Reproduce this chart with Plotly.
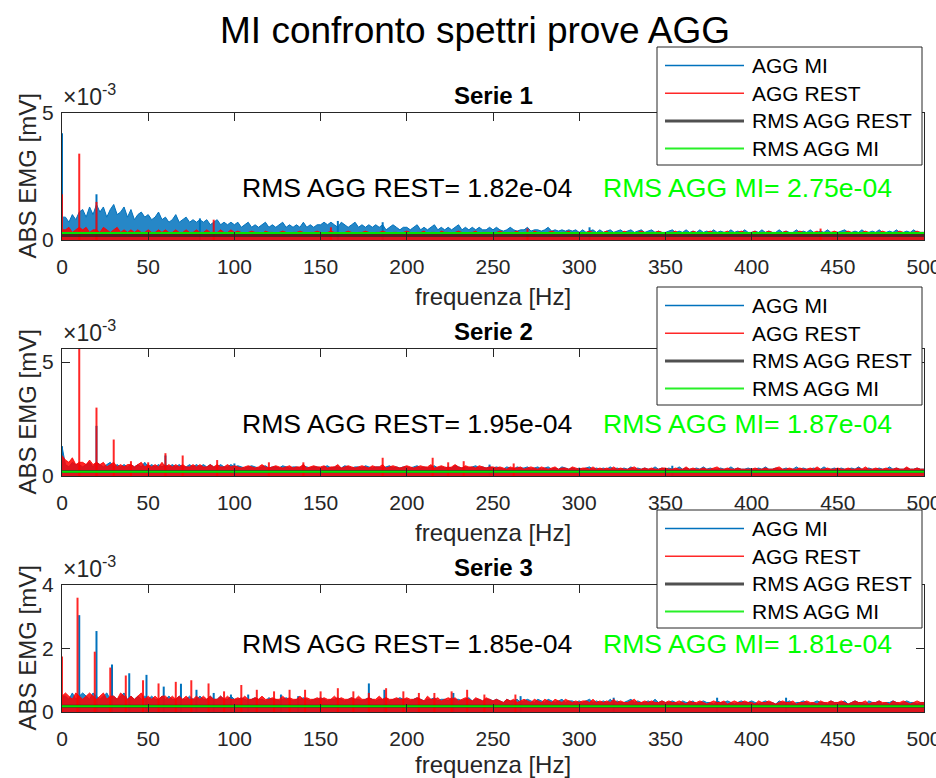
import plotly.graph_objects as go

W, H = 936, 778

# ---------------- data (values in units of 1e-4 mV) ----------------
F_GRID = list(range(0, 501, 2))          # frequency grid [Hz]
UNIT = 1e-4

# ---- Serie 1 ----
S1_MI = [9, 9, 7, 10, 8, 11, 12, 9, 13, 10, 14, 11, 13, 9, 12, 14, 10, 11, 13, 9, 12, 8, 10, 11, 9,
         10, 8, 9, 11, 8, 9, 7, 8, 10, 7, 8, 9, 7, 8, 7, 8, 7, 8, 6, 7, 8, 6, 7, 6, 7,
         6, 7, 5, 6, 7, 5, 6, 5, 6, 7, 5, 6, 5, 6, 7, 5, 6, 5, 6, 5, 7, 5, 6, 5, 6,
         6, 7, 6, 7, 6, 5, 7, 6, 5, 6, 7, 5, 6, 5, 6, 5, 6, 5, 6, 4, 5, 6, 5, 4, 5,
         5, 4, 5, 6, 4, 5, 4, 5, 6, 4, 5, 4, 5, 4, 5, 6, 4, 5, 4, 5, 4, 5, 4, 4, 5,
         4, 5, 4, 3.5, 4, 5, 4, 3.5, 4, 4, 5, 3.5, 4, 4, 3.5, 4, 5, 3.5, 4, 3.5, 4, 3.5, 4, 3.5, 4,
         3, 4, 3, 3.5, 4, 3, 4, 3, 3.5, 4, 3, 3.5, 4, 3, 3.5, 4, 3, 3.5, 4, 3, 3.5, 4, 3, 3.5, 3,
         3, 3.5, 4, 3, 3.5, 3, 4, 3, 3.5, 3, 4, 3, 3.5, 3, 4, 3, 3.5, 3, 3, 4, 3, 3.5, 3, 4, 3,
         3, 3.5, 3, 4, 3, 3.5, 3, 3, 4, 3, 3.5, 3, 3, 4, 3, 3.5, 3, 4, 3, 3, 3.5, 3, 4, 3, 3,
         3, 3.5, 4, 3, 3, 3.5, 3, 4, 3, 3, 3.5, 3, 4, 3, 3, 3.5, 3, 4, 3, 3, 3.5, 3, 4, 3, 3, 3]
S1_REST = [4, 4, 5, 3, 4, 5, 4, 5, 3, 4, 4, 3, 5, 4, 3, 4, 5, 3, 4, 3, 4, 3, 4, 3, 3,
           4, 3, 3, 4, 3, 4, 3, 3, 4, 3, 3, 4, 3, 3, 4, 3, 3, 4, 3, 3, 3, 4, 3, 3, 4,
           3, 3.5, 3, 2.5, 3, 3.5, 3, 3, 2.5, 3.5, 3, 3, 2.5, 3, 3.5, 3, 2.5, 3, 3, 3.5, 3, 2.5, 3, 3, 3.5,
           3, 2.5, 3, 3.5, 3, 3, 2.5, 3, 3.5, 3, 2.5, 3, 3, 3.5, 3, 2.5, 3, 3, 3.5, 3, 2.5, 3, 3, 2.5, 3,
           3.5, 3, 2.5, 3, 3, 3.5, 2.5, 3, 3, 2.5, 3.5, 3, 3, 2.5, 3, 3.5, 3, 2.5, 3, 3, 3.5, 2.5, 3, 3, 3,
           2.5, 3, 3.5, 3, 2.5, 3, 3, 3.5, 2.5, 3, 3, 2.5, 3.5, 3, 3, 2.5, 3, 3.5, 3, 2.5, 3, 3, 3.5, 2.5, 3,
           3, 2.5, 3, 3.5, 3, 2.5, 3, 3, 3.5, 2.5, 3, 3, 2.5, 3.5, 3, 3, 2.5, 3, 3.5, 3, 2.5, 3, 3, 3.5, 3,
           2.5, 3, 3, 3.5, 2.5, 3, 3, 2.5, 3.5, 3, 3, 2.5, 3, 3.5, 3, 2.5, 3, 3, 3.5, 2.5, 3, 3, 3.5, 3, 2.5,
           3, 3.5, 2.5, 3, 3, 3.5, 3, 2.5, 3, 3, 3.5, 2.5, 3, 3, 3.5, 3, 2.5, 3, 3, 3.5, 2.5, 3, 3, 3, 3.5,
           3, 2.5, 3, 3.5, 3, 3, 2.5, 3, 3.5, 3, 2.5, 3, 3, 3.5, 3, 2.5, 3, 3, 3.5, 3, 2.5, 3, 3, 3.5, 3, 3]
S1_MI_PEAK_F = [0, 20, 80, 160, 186, 306]
S1_MI_PEAK_A = [42, 18, 8.5, 7.5, 7, 5]
S1_REST_PEAK_F = [0, 10, 20, 88, 156, 270, 440]
S1_REST_PEAK_A = [18, 34, 15, 8, 5, 4.5, 4.5]

# ---- Serie 2 ----
S2_MI = [13, 5, 4, 6, 5, 5, 4, 5, 6, 4, 6, 5, 4, 5, 6, 4, 5, 4, 5, 4, 5, 4, 5, 4, 6,
         4, 5, 4, 5, 4, 5, 4, 5, 4, 5, 4, 4, 5, 4, 5, 4, 5, 4, 5, 4, 4, 5, 4, 4, 5,
         4, 4.5, 4, 3.5, 4, 4.5, 4, 3.5, 4, 4.5, 3.5, 4, 4, 3.5, 4.5, 4, 3.5, 4, 4, 3.5, 4.5, 4, 3.5, 4, 4,
         3.5, 4, 4.5, 3.5, 4, 4, 3.5, 4.5, 4, 3.5, 4, 4, 3.5, 4.5, 4, 3.5, 4, 4, 3.5, 4, 4.5, 3.5, 4, 3.5, 4,
         4, 3.5, 4, 4.5, 3.5, 4, 3.5, 4, 4.5, 3.5, 4, 3.5, 4, 3.5, 4.5, 4, 3.5, 4, 3.5, 4, 4.5, 3.5, 4, 3.5, 4,
         3.5, 4, 3.5, 3, 4, 3.5, 3, 4, 3.5, 3.5, 4, 3, 3.5, 4, 3, 3.5, 4, 3, 3.5, 3, 4, 3.5, 3, 3.5, 3,
         3.5, 3, 3.5, 4, 3, 3.5, 3, 3.5, 3, 4, 3, 3.5, 3, 3.5, 3, 4, 3, 3.5, 3, 3.5, 3, 3, 4, 3, 3.5,
         3, 3.5, 3, 3, 4, 3, 3.5, 3, 3, 3.5, 3, 4, 3, 3.5, 3, 3, 3.5, 3, 3, 4, 3, 3.5, 3, 3, 3.5,
         3, 3, 3.5, 3, 4, 3, 3, 3.5, 3, 3, 3.5, 3, 3, 4, 3, 3.5, 3, 3, 3.5, 3, 3, 4, 3, 3, 3.5,
         3, 3.5, 3, 3, 3.5, 3, 4, 3, 3, 3.5, 3, 3, 3.5, 3, 3, 4, 3, 3.5, 3, 3, 3.5, 3, 3, 3.5, 3, 3]
S2_REST = [9, 7, 6, 8, 5, 6, 6, 5, 7, 5, 6, 5, 6, 4, 5, 6, 4, 5, 4, 5, 5, 4, 5, 6, 4,
           5, 4, 5, 4, 6, 4, 5, 4, 5, 4, 5, 4, 4, 5, 4, 5, 4, 4, 5, 4, 5, 4, 4, 5, 4,
           4.5, 4, 3.5, 4, 4.5, 4, 3.5, 4, 5, 4, 3.5, 4, 4.5, 4, 3.5, 4, 4.5, 3.5, 4, 4, 5, 3.5, 4, 4.5, 4,
           4, 4.5, 3.5, 4, 4, 5, 3.5, 4, 4.5, 4, 3.5, 4, 4.5, 4, 3.5, 4.5, 4, 4, 5, 3.5, 4, 4.5, 4, 3.5, 4,
           4.5, 4, 3.5, 4, 4.5, 4, 4, 5, 3.5, 4, 4.5, 4, 3.5, 4, 5, 4, 3.5, 4.5, 4, 4, 3.5, 4.5, 4, 3.5, 4,
           4, 3.5, 4, 3.5, 3, 4, 3.5, 3.5, 4, 3, 3.5, 4, 3.5, 3, 4, 3.5, 3, 3.5, 4, 3, 3.5, 3.5, 3, 4, 3.5,
           3, 3.5, 3.5, 3, 4, 3, 3.5, 3, 3.5, 3, 4, 3, 3.5, 3, 3, 3.5, 4, 3, 3, 3.5, 3, 3.5, 3, 3, 3.5,
           3.5, 3, 3, 3.5, 3, 3, 4, 3, 3.5, 3, 3, 3.5, 3, 3, 3.5, 4, 3, 3, 3.5, 3, 3, 3.5, 3, 3, 3,
           3, 3.5, 3, 3, 3.5, 3, 3, 3.5, 4, 3, 3, 3.5, 3, 3, 3.5, 3, 3, 3.5, 3, 4, 3, 3, 3.5, 3, 3,
           3.5, 3, 3, 3.5, 3, 3, 3.5, 3, 4, 3, 3, 3.5, 3, 3, 3.5, 3, 3, 3.5, 3, 3, 4, 3, 3, 3.5, 3, 3]
S2_MI_PEAK_F = [0, 20, 60, 100, 140, 248, 354]
S2_MI_PEAK_A = [13, 22, 9, 5.5, 5, 5, 4.5]
S2_REST_PEAK_F = [10, 20, 30, 40, 50, 60, 70, 90, 120, 140, 186, 215, 224, 233, 262]
S2_REST_PEAK_A = [55.7, 30, 16, 6.5, 6, 10, 9, 7, 6, 6, 8, 8, 6, 6.5, 5.5]

# ---- Serie 3 ----
S3_MI = [5, 5, 4, 6, 4, 5, 6, 5, 4, 6, 5, 4, 5, 6, 4, 5, 4, 5, 6, 4, 5, 4, 5, 4, 5,
         4, 5, 4, 4, 5, 4, 5, 4, 4, 5, 4, 4, 5, 4, 4, 5, 4, 4, 5, 4, 4, 5, 4, 4, 5,
         4, 4, 4.5, 4, 3.5, 4, 4.5, 4, 4, 3.5, 4.5, 4, 4, 3.5, 4, 4.5, 4, 3.5, 4, 4, 4.5, 4, 3.5, 4, 4,
         4.5, 4, 3.5, 4, 4, 4.5, 4, 3.5, 4, 4.5, 4, 4, 3.5, 4, 4.5, 4, 3.5, 4, 4, 4.5, 3.5, 4, 4, 4.5, 4,
         4, 3.5, 4, 4.5, 4, 3.5, 4, 4, 4.5, 3.5, 4, 4, 3.5, 4.5, 4, 4, 3.5, 4, 4.5, 3.5, 4, 4, 3.5, 4, 4,
         3.5, 4, 3.5, 3, 4, 3.5, 3.5, 4, 3, 3.5, 4, 3.5, 3, 4, 3.5, 3, 4, 3.5, 3, 3.5, 4, 3, 3.5, 3.5, 3,
         3.5, 3, 3.5, 4, 3, 3.5, 3, 3.5, 3, 4, 3, 3.5, 3, 3, 3.5, 4, 3, 3.5, 3, 3, 3.5, 3, 4, 3, 3.5,
         3, 3, 3.5, 3, 2.5, 3.5, 3, 3, 3.5, 2.5, 3, 3.5, 3, 3, 2.5, 3.5, 3, 3, 3.5, 3, 2.5, 3, 3.5, 3, 3,
         3.5, 3, 2.5, 3, 3.5, 3, 3, 2.5, 3.5, 3, 3, 3.5, 2.5, 3, 3, 3.5, 3, 2.5, 3, 3.5, 3, 3, 2.5, 3.5, 3,
         3, 3, 3.5, 2.5, 3, 3.5, 3, 3, 2.5, 3.5, 3, 3, 3.5, 2.5, 3, 3, 3.5, 3, 2.5, 3, 3.5, 3, 3, 2.5, 3, 3]
S3_REST = [5, 6, 5, 4, 6, 5, 4, 5, 6, 5, 4, 5, 6, 4, 5, 5, 4, 6, 5, 4, 5, 4, 5, 6, 4,
           5, 4, 5, 4, 5, 5, 4, 5, 4, 5, 4, 5, 4, 4, 5, 4, 5, 4, 5, 4, 4, 5, 4, 5, 4,
           4, 4.5, 4, 5, 4, 4, 4.5, 4, 5, 4, 4, 4.5, 4, 4, 5, 4, 4.5, 4, 4, 5, 4, 4.5, 4, 4, 4.5,
           4, 4.5, 4, 4, 5, 4, 4.5, 4, 4, 4.5, 4, 5, 4, 4, 4.5, 4, 4, 5, 4, 4.5, 4, 4, 4.5, 4, 4,
           4.5, 4, 4, 4.5, 4, 3.5, 5, 4, 4, 4.5, 3.5, 4, 4.5, 4, 4.5, 3.5, 4, 4.5, 4, 3.5, 4.5, 4, 3.5, 4.5, 4,
           3.5, 4, 3.5, 3, 4, 3.5, 4, 3, 3.5, 4, 3.5, 3, 4, 3.5, 3, 4, 3.5, 3, 4, 3.5, 3, 4, 3.5, 3, 3.5,
           3, 3.5, 3.5, 3, 4, 3, 3.5, 3, 3.5, 3, 4, 3, 3.5, 3, 3, 3.5, 4, 3, 3, 3.5, 3, 3.5, 3, 3, 3.5,
           3, 3.5, 3, 3, 3.5, 3, 2.5, 3.5, 3, 3, 3.5, 3, 2.5, 3, 3.5, 3, 3, 3.5, 2.5, 3, 3.5, 3, 3, 3.5, 3,
           3, 2.5, 3.5, 3, 3, 3.5, 3, 2.5, 3, 3.5, 3, 3, 3.5, 2.5, 3, 3, 3.5, 3, 3, 2.5, 3.5, 3, 3, 3.5, 3,
           3, 3.5, 3, 2.5, 3, 3.5, 3, 3, 3.5, 2.5, 3, 3, 3.5, 3, 3, 2.5, 3.5, 3, 3, 3.5, 3, 2.5, 3, 3.5, 3, 3]
S3_MI_PEAK_F = [10, 20, 29, 39, 49, 59, 69, 78, 88, 98, 108, 127, 137, 178, 187, 227, 266, 320, 380, 420]
S3_MI_PEAK_A = [30.5, 25.5, 15, 12.2, 11.7, 8, 8.9, 7, 6, 5.5, 5.5, 5.5, 5, 9, 7, 6, 5, 4.5, 4.5, 4.5]
S3_REST_PEAK_F = [0, 9, 19, 28, 37, 47, 56, 66, 75, 85, 94, 104, 113, 123, 132, 141, 150, 160, 169,
                  178, 188, 198, 207, 216, 226, 235, 245, 263]
S3_REST_PEAK_A = [17.5, 36, 19, 14, 11.5, 10, 9, 9.5, 10, 9, 6.5, 8.5, 7, 6.5, 7, 7, 6.5, 7.5, 6.5,
                  6, 7.5, 6.5, 6, 6, 6.5, 7, 5.5, 5.5]

# RMS values [mV]
RMS_REST = [1.82e-4, 1.95e-4, 1.85e-4]
RMS_MI = [2.75e-4, 1.87e-4, 1.81e-4]

SERIES_TITLES = ["Serie 1", "Serie 2", "Serie 3"]
Y_MAX = [5e-3, 5.57e-3, 4e-3]
Y_TICKS = [[0, 5e-3], [0, 5e-3], [0, 2e-3, 4e-3]]
Y_TICKTEXT = [["0", "5"], ["0", "5"], ["0", "2", "4"]]
X_TICKS = list(range(0, 501, 50))

LEGEND_NAMES = ["AGG MI", "AGG REST", "RMS AGG REST", "RMS AGG MI"]

SERIES = [
    (S1_MI, S1_REST, S1_MI_PEAK_F, S1_MI_PEAK_A, S1_REST_PEAK_F, S1_REST_PEAK_A),
    (S2_MI, S2_REST, S2_MI_PEAK_F, S2_MI_PEAK_A, S2_REST_PEAK_F, S2_REST_PEAK_A),
    (S3_MI, S3_REST, S3_MI_PEAK_F, S3_MI_PEAK_A, S3_REST_PEAK_F, S3_REST_PEAK_A),
]
for s in SERIES:
    assert len(s[0]) == len(F_GRID), len(s[0])
    assert len(s[1]) == len(F_GRID), len(s[1])

# ---------------- styling / layout ----------------
BLUE = "rgb(0,114,189)"
BLUE_FILL = "rgba(0,114,189,0.85)"
RED = "rgba(255,0,0,0.85)"
RED_FILL = "rgba(255,0,0,0.85)"
DARK = "rgba(40,40,40,0.75)"
GREEN = "rgb(0,230,0)"
AX = "#262626"
FONT = "Liberation Sans, Arial, sans-serif"

AX_TOP = [113, 349, 585]
AX_BOT = [240, 476, 712]
AX_L, AX_R = 62, 924
LEG_TOP = [47, 287, 510]
XLAB_OFF = [57, 56, 52]


def xp(x):
    return x / W


def yp(y):
    return 1 - y / H


fig = go.Figure()
shapes = []
annotations = []

for i, (mi, rest, mpf, mpa, rpf, rpa) in enumerate(SERIES):
    sfx = "" if i == 0 else str(i + 1)
    xa, ya = "x" + sfx, "y" + sfx
    # AGG MI spectrum
    fig.add_trace(go.Scatter(x=F_GRID, y=[v * UNIT for v in mi], mode="lines",
                             line=dict(color=BLUE, width=1), fill="tozeroy", fillcolor=BLUE_FILL,
                             xaxis=xa, yaxis=ya, showlegend=False, name="AGG MI"))
    sx, sy = [], []
    for f, a in zip(mpf, mpa):
        sx += [f, f, None]
        sy += [0, a * UNIT, None]
    fig.add_trace(go.Scatter(x=sx, y=sy, mode="lines", line=dict(color=BLUE, width=2),
                             xaxis=xa, yaxis=ya, showlegend=False, name="AGG MI"))
    # AGG REST spectrum
    fig.add_trace(go.Scatter(x=F_GRID, y=[v * UNIT for v in rest], mode="lines",
                             line=dict(color=RED, width=1), fill="tozeroy", fillcolor=RED_FILL,
                             xaxis=xa, yaxis=ya, showlegend=False, name="AGG REST"))
    sx, sy = [], []
    for f, a in zip(rpf, rpa):
        sx += [f, f, None]
        sy += [0, a * UNIT, None]
    fig.add_trace(go.Scatter(x=sx, y=sy, mode="lines", line=dict(color=RED, width=2),
                             xaxis=xa, yaxis=ya, showlegend=False, name="AGG REST"))
    # RMS lines
    fig.add_trace(go.Scatter(x=[0, 500], y=[RMS_REST[i]] * 2, mode="lines",
                             line=dict(color=DARK, width=3), xaxis=xa, yaxis=ya,
                             showlegend=False, name="RMS AGG REST"))
    fig.add_trace(go.Scatter(x=[0, 500], y=[RMS_MI[i]] * 2, mode="lines",
                             line=dict(color=GREEN, width=2), xaxis=xa, yaxis=ya,
                             showlegend=False, name="RMS AGG MI"))

    common = dict(showline=True, mirror="ticks", linecolor=AX, linewidth=1, ticks="inside",
                  ticklen=8, tickwidth=1, tickcolor=AX, showgrid=False, zeroline=False,
                  automargin=False, ticklabeloverflow="allow",
                  tickfont=dict(family=FONT, size=21, color=AX))
    fig.update_layout(**{
        "xaxis" + sfx: dict(common, domain=[xp(AX_L), xp(AX_R)], range=[0, 500],
                            tickvals=X_TICKS, anchor=ya, ticklabelstandoff=8),
        "yaxis" + sfx: dict(common, domain=[yp(AX_BOT[i]), yp(AX_TOP[i])], range=[0, Y_MAX[i]],
                            tickvals=Y_TICKS[i], ticktext=Y_TICKTEXT[i], anchor=xa,
                            ticklabelstandoff=3),
    })

    mid_y = (AX_TOP[i] + AX_BOT[i]) / 2
    # subplot title
    annotations.append(dict(x=xp((AX_L + AX_R) / 2), y=yp(AX_TOP[i] - 18), xref="paper", yref="paper",
                            text="<b>%s</b>" % SERIES_TITLES[i], showarrow=False,
                            font=dict(family=FONT, size=24, color="#000000"),
                            xanchor="center", yanchor="middle"))
    # exponent
    annotations.append(dict(x=xp(AX_L - 1), y=yp(AX_TOP[i] - 1), xref="paper", yref="paper",
                            text="×10<sup>-3</sup>", showarrow=False,
                            font=dict(family=FONT, size=23, color=AX), xanchor="left", yanchor="bottom"))
    # y label
    annotations.append(dict(x=xp(27), y=yp(mid_y), xref="paper", yref="paper",
                            text="ABS EMG [mV]", textangle=-90, showarrow=False,
                            font=dict(family=FONT, size=24, color=AX), xanchor="center", yanchor="middle"))
    # x label
    annotations.append(dict(x=xp((AX_L + AX_R) / 2), y=yp(AX_BOT[i] + XLAB_OFF[i]), xref="paper", yref="paper",
                            text="frequenza [Hz]", showarrow=False,
                            font=dict(family=FONT, size=24, color=AX), xanchor="center", yanchor="middle"))
    # RMS texts
    ty = AX_TOP[i] + 75 if i < 2 else AX_TOP[i] + 59
    annotations.append(dict(x=xp(240), y=yp(ty), xref="paper", yref="paper",
                            text="RMS AGG REST= %.2e" % RMS_REST[i], showarrow=False,
                            font=dict(family=FONT, size=26.6, color="#000000"),
                            xanchor="left", yanchor="middle"))
    annotations.append(dict(x=xp(601), y=yp(ty), xref="paper", yref="paper",
                            text="RMS AGG MI= %.2e" % RMS_MI[i], showarrow=False,
                            font=dict(family=FONT, size=26.6, color="rgb(0,255,0)"),
                            xanchor="left", yanchor="middle"))

    # legend box (drawn manually to match sample line length)
    lt = LEG_TOP[i]
    shapes.append(dict(type="rect", xref="paper", yref="paper", x0=xp(657), x1=xp(922),
                       y0=yp(lt), y1=yp(lt + 118), line=dict(color=AX, width=1),
                       fillcolor="white", layer="above"))
    leg_styles = [dict(color=BLUE, width=1.5), dict(color="rgb(255,40,40)", width=1.5),
                  dict(color="rgb(80,80,80)", width=3), dict(color="rgb(40,240,40)", width=2)]
    for k, (name, st) in enumerate(zip(LEGEND_NAMES, leg_styles)):
        ey = lt + 18.5 + k * 27.7
        shapes.append(dict(type="line", xref="paper", yref="paper", x0=xp(665), x1=xp(744),
                           y0=yp(ey), y1=yp(ey), line=st, layer="above"))
        annotations.append(dict(x=xp(750), y=yp(ey), xref="paper", yref="paper", text=name,
                                showarrow=False, font=dict(family=FONT, size=21, color="#000000"),
                                xanchor="left", yanchor="middle"))

# main title
annotations.append(dict(x=xp(475), y=yp(30), xref="paper", yref="paper",
                        text="MI confronto spettri prove AGG", showarrow=False,
                        font=dict(family=FONT, size=37, color="#000000"),
                        xanchor="center", yanchor="middle"))

fig.update_layout(width=W, height=H, margin=dict(l=0, r=0, t=0, b=0, autoexpand=False),
                  paper_bgcolor="white", plot_bgcolor="white",
                  font=dict(family=FONT, color=AX),
                  shapes=shapes, annotations=annotations, showlegend=False)

fig.write_html("out.html")
